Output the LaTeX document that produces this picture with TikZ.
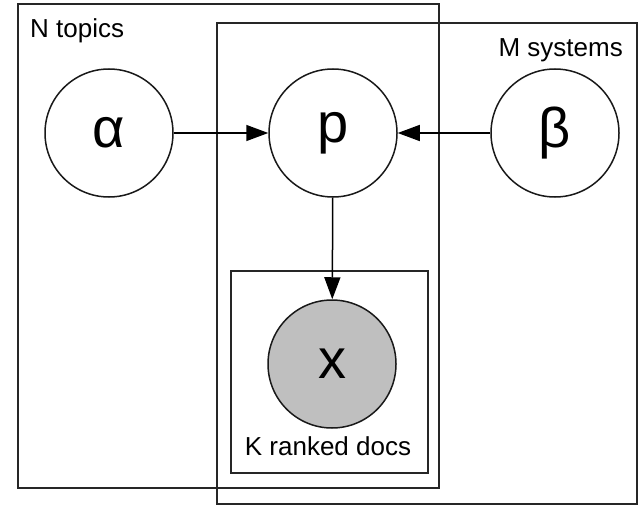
\documentclass[tikz,border=0pt]{standalone}
\usepackage{fontspec}
\setmainfont{Liberation Sans}
\usetikzlibrary{arrows.meta}
\begin{document}
\begin{tikzpicture}[x=1pt,y=-1pt,
  plate/.style={draw=black!85,line width=1.8pt},
  var/.style={circle,draw=black!90,line width=1.5pt,minimum size=128pt,inner sep=0pt,font=\fontsize{56}{62}\selectfont},
  lbl/.style={font=\fontsize{26}{30}\selectfont,inner sep=0pt},
  link/.style={line width=1.5pt,-{Triangle[length=22pt,width=16pt]}}]
\useasboundingbox (0,0) rectangle (639,505);
\draw[plate] (18,4) rectangle (439,488);
\draw[plate] (217,23) rectangle (637,504);
\draw[plate] (231,271) rectangle (428,473);
\node[lbl,anchor=base west] (nt) at (30,38) {N topics};
\node[lbl,anchor=base east] (ms) at (623,57) {M systems};
\node[lbl,anchor=base] (kd) at (328,455) {K ranked docs};
\node[var] (a) at (109,133) {α};
\node[var] (p) at (333,133) {p};
\node[var] (b) at (555,133) {β};
\node[var,fill=black!25] (x) at (332,364) {x};
\draw[link] (a) -- (p);
\draw[link] (b) -- (p);
\draw[link] (p) -- (x);
\end{tikzpicture}
\end{document}
